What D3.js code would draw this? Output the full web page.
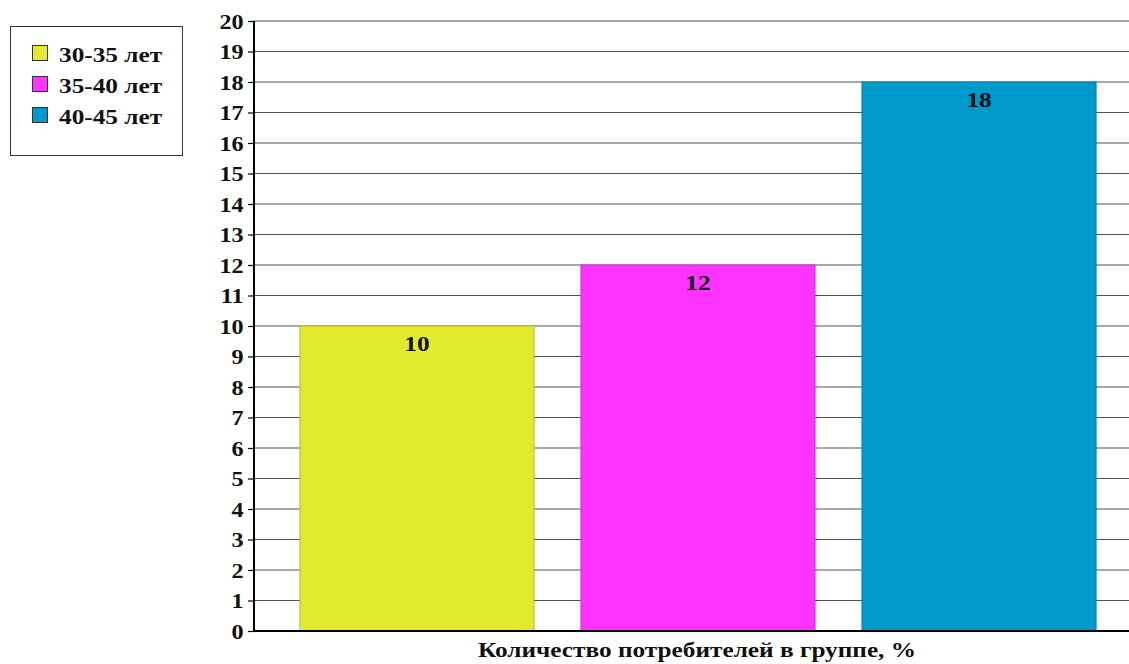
<!DOCTYPE html>
<html><head><meta charset="utf-8">
<script src="https://cdn.jsdelivr.net/npm/d3@7"></script>
<style>body{margin:0;background:#fff}svg{display:block}
svg text{font-family:"Liberation Serif","Times New Roman",serif;font-weight:bold;fill:#111}</style>
</head><body>
<svg id="c" width="1129" height="664"></svg>
<script>
const categories = ["30-35 лет", "35-40 лет", "40-45 лет"];
const values = [10, 12, 18];
const colors = ["#e2ea2e", "#ff33ff", "#0099cc"];
const strokes = ["#b8bc2a", "#d92ad9", "#007fa8"];
const yTicks = d3.range(0, 21);
const xTitle = "Количество потребителей в группе, %";

const svg = d3.select("#c");
const plotL = 254, plotR = 1129, plotT = 21, plotB = 631;
const SX = 1.15; // horizontal stretch of the reference lettering

const y = d3.scaleLinear().domain([0, 20]).range([plotB, plotT]);
const x = d3.scaleBand().domain(categories).range([253, 1143]).padding(0.167);

// gridlines
svg.append("g").selectAll("line").data(yTicks.filter(d => d > 0)).join("line")
  .attr("x1", plotL).attr("x2", plotR)
  .attr("y1", d => y(d)).attr("y2", d => y(d))
  .attr("stroke", "#4a5358").attr("stroke-width", 1.2);

// bars
svg.append("g").selectAll("rect").data(values).join("rect")
  .attr("x", (d, i) => x(categories[i]))
  .attr("width", x.bandwidth())
  .attr("y", d => y(d))
  .attr("height", d => y(0) - y(d))
  .attr("fill", (d, i) => colors[i])
  .attr("stroke", (d, i) => strokes[i]).attr("stroke-width", 1);

// value labels
svg.append("g").selectAll("text").data(values).join("text")
  .attr("transform", (d, i) => `translate(${x(categories[i]) + x.bandwidth() / 2},${y(d) + 25}) scale(${SX},1)`)
  .attr("text-anchor", "middle")
  .style("font-size", "22px")
  .text(d => d);

// y axis
const yAxis = d3.axisLeft(y).tickValues(yTicks).tickSize(6).tickPadding(4).tickFormat(d3.format("d"));
const ga = svg.append("g").attr("transform", `translate(${plotL},0)`).call(yAxis)
  .attr("font-family", null).attr("font-size", null);
ga.select(".domain").remove();
ga.selectAll(".tick line").attr("stroke", "#000").attr("stroke-width", 1.2);
ga.selectAll(".tick text").style("font-size", "21px").attr("fill", null)
  .attr("x", -10.5 / SX).attr("dy", "0.35em").attr("transform", `scale(${SX},1)`);

// axis lines
svg.append("line").attr("x1", plotL).attr("x2", plotL).attr("y1", plotT).attr("y2", plotB + 1)
  .attr("stroke", "#000").attr("stroke-width", 2);
svg.append("line").attr("x1", plotL - 1).attr("x2", plotR).attr("y1", plotB).attr("y2", plotB)
  .attr("stroke", "#000").attr("stroke-width", 2);

// x title
svg.append("text").attr("transform", `translate(697,657) scale(${SX},1)`).attr("text-anchor", "middle")
  .style("font-size", "22px").text(xTitle);

// legend
const lg = svg.append("g");
lg.append("rect").attr("x", 10.5).attr("y", 26.5).attr("width", 172).attr("height", 129)
  .attr("fill", "#fff").attr("stroke", "#333").attr("stroke-width", 1);
const li = lg.selectAll("g.item").data(categories).join("g").attr("class", "item")
  .attr("transform", (d, i) => `translate(0,${i * 31})`);
li.append("rect").attr("x", 32.5).attr("y", 45.5).attr("width", 15).attr("height", 15)
  .attr("fill", (d, i) => colors[i]).attr("stroke", "#333").attr("stroke-width", 1);
li.append("text").attr("transform", `translate(59,62) scale(${SX},1)`)
  .style("font-size", "22px").text(d => d);
</script>
</body></html>
